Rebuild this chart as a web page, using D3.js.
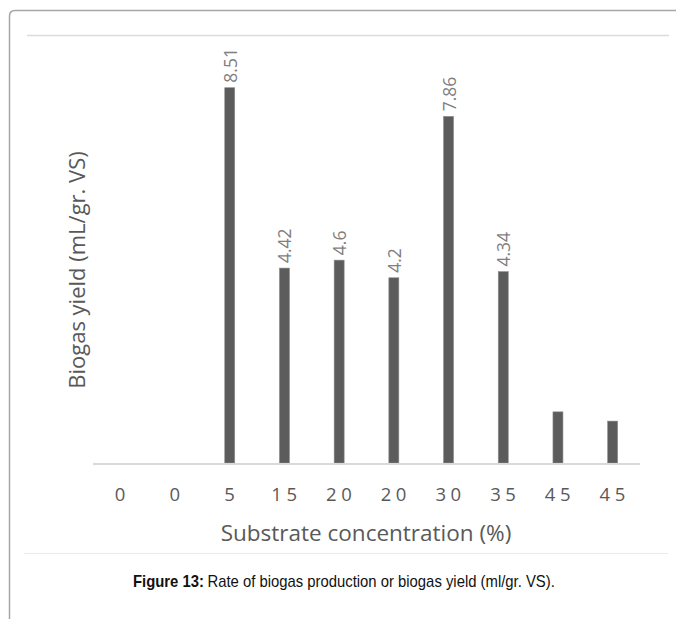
<!DOCTYPE html>
<html>
<head>
<meta charset="utf-8">
<script src="https://cdn.jsdelivr.net/npm/d3@7"></script>
<style>
  html, body { margin: 0; padding: 0; background: #fff; }
  svg { display: block; }
</style>
</head>
<body>
<div id="chart"></div>
<script>
// substrate concentration (%) per bar, as printed under the axis
const categories = ["0", "0", "5", "15", "20", "20", "30", "35", "45", "45"]
// biogas yield (mL/gr. VS)
const yields = [0, 0, 8.51, 4.42, 4.6, 4.2, 7.86, 4.34, 1.16, 0.95]
// data labels shown above bars (null = no label)
const valueLabels = [null, null, "8.51", "4.42", "4.6", "4.2", "7.86", "4.34", null, null]

const W = 676, H = 619

const svg = d3.select("#chart").append("svg")
  .attr("width", W)
  .attr("height", H)

// outer frame with rounded top-left corner
svg.append("path")
  .attr("d", "M9.5,619 L9.5,16 Q9.5,10.5 15,10.5 L676,10.5")
  .attr("fill", "none")
  .attr("stroke", "#a6a6a6")
  .attr("stroke-width", 1.5)

// thin separator lines
svg.append("line")
  .attr("x1", 27).attr("x2", 669).attr("y1", 35.5).attr("y2", 35.5)
  .attr("stroke", "#dcdcdc").attr("stroke-width", 1.5)
svg.append("line")
  .attr("x1", 24).attr("x2", 668).attr("y1", 553.5).attr("y2", 553.5)
  .attr("stroke", "#ececec").attr("stroke-width", 1)

const x = d3.scaleBand()
  .domain(d3.range(categories.length))
  .range([93, 640])

const y = d3.scaleLinear()
  .domain([0, 10])
  .range([463, 22])

const barW = 10

// bars
svg.selectAll("rect.bar")
  .data(yields)
  .enter()
  .append("rect")
  .attr("class", "bar")
  .attr("x", (d, i) => x(i) + x.bandwidth() / 2 - barW / 2)
  .attr("y", d => y(d))
  .attr("width", barW)
  .attr("height", d => y(0) - y(d))
  .attr("fill", "#5b5c5b")
  .attr("stroke", "#8c8c8c")
  .attr("stroke-width", 0.6)
  .style("display", d => d > 0 ? null : "none")

// x axis line
svg.append("line")
  .attr("x1", 93).attr("x2", 640)
  .attr("y1", y(0) + 1).attr("y2", y(0) + 1)
  .attr("stroke", "#d9d9d9").attr("stroke-width", 2)

// x axis (labels only)
const xAxis = d3.axisBottom(x)
  .tickSize(0)
  .tickPadding(0)
  .tickFormat(i => categories[i])

const gx = svg.append("g")
  .attr("transform", "translate(0,488)")
  .call(xAxis)
gx.select(".domain").remove()
gx.selectAll("text")
  .attr("dy", "0.71em")
  .style("font-family", "'Open Sans', sans-serif")
  .style("font-size", "18.5px")
  .style("letter-spacing", "4.5px")
  .attr("fill", "#595959")
  .attr("dx", "2px")

// data labels (rotated)
svg.selectAll("text.val")
  .data(yields.map((v, i) => ({ v, i, label: valueLabels[i] })).filter(d => d.label))
  .enter()
  .append("text")
  .attr("class", "val")
  .attr("transform", d => `translate(${x(d.i) + x.bandwidth() / 2 + 7},${y(d.v) - 5}) rotate(-90)`)
  .attr("text-anchor", "start")
  .style("font-family", "'Open Sans', sans-serif")
  .style("font-size", "17.5px")
  .attr("fill", "#7f7f7f")
  .text(d => d.label)

// axis titles
svg.append("text")
  .attr("x", 366)
  .attr("y", 541)
  .attr("text-anchor", "middle")
  .style("font-family", "'Open Sans', sans-serif")
  .style("font-size", "22.5px")
  .attr("fill", "#595959")
  .text("Substrate concentration (%)")

svg.append("text")
  .attr("transform", "translate(85,270) rotate(-90)")
  .attr("text-anchor", "middle")
  .style("font-family", "'Open Sans', sans-serif")
  .style("font-size", "22px")
  .attr("fill", "#595959")
  .text("Biogas yield (mL/gr. VS)")

// figure caption: bold label + plain text, squeezed to the reference width
const capFont = "'Liberation Sans Narrow', 'Arial Narrow', 'Liberation Sans', sans-serif"
const capG = svg.append("g")
const capBold = capG.append("text")
  .attr("x", 0).attr("y", 0)
  .style("font-family", capFont)
  .style("font-size", "17px")
  .style("font-weight", "bold")
  .attr("fill", "#111")
  .text("Figure 13:")
const boldW = capBold.node().getComputedTextLength()
const capRest = capG.append("text")
  .attr("x", boldW + 4).attr("y", 0)
  .style("font-family", capFont)
  .style("font-size", "17px")
  .attr("fill", "#111")
  .text("Rate of biogas production or biogas yield (ml/gr. VS).")
const totalW = boldW + 4 + capRest.node().getComputedTextLength()
const sx = Math.min(1, 422 / totalW)
capG.attr("transform", `translate(${344 - totalW * sx / 2},587) scale(${sx},1)`)
</script>
</body>
</html>
